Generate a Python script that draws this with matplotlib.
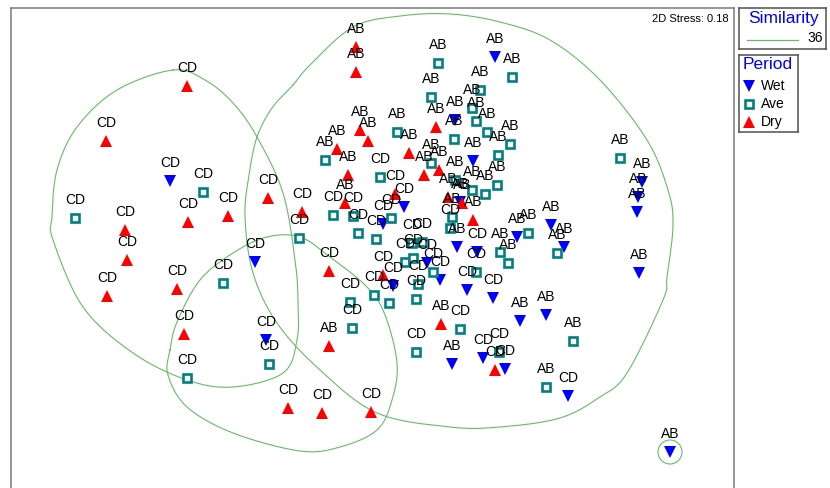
import numpy as np
import matplotlib
matplotlib.use("Agg")
import matplotlib.pyplot as plt
from matplotlib.patches import Ellipse
from matplotlib.lines import Line2D

plt.rcParams['font.family'] = ['Liberation Sans', 'DejaVu Sans']

# nMDS ordination scores (MDS1, MDS2) by sampling period, with site group labels
wet_x = [-2.00, -1.15, -1.04, 0.82, 1.13, 1.35, 1.50, 1.76, 1.98, 3.00,
         1.25, 0.85, 1.03, 0.34, 0.13, 0.57, 0.70, 0.23, 0.97, 1.23,
         0.87, 1.07, 1.47, 1.81, 1.94, 2.72, 2.68, 2.67, 2.69, 0.90]
wet_y = [0.69, -0.12, -0.90, -1.14, -1.08, -1.19, -0.71, -0.65, -1.46, -2.02,
         1.93, 1.30, 0.89, 0.43, 0.26, -0.13, -0.30, -0.36, -0.40, -0.48,
         0.03, -0.02, 0.13, 0.25, 0.03, 0.68, 0.53, 0.38, -0.23, 0.48]
wet_lab = ["CD", "CD", "CD", "AB", "CD", "CD", "AB", "AB", "CD", "AB",
           "AB", "AB", "AB", "CD", "CD", "CD", "CD", "CD", "CD", "CD",
           "AB", "CD", "AB", "AB", "AB", "AB", "AB", "AB", "AB", "AB"]

ave_x = [-1.67, -2.95, -1.47, -1.01, -1.83, -0.71, -0.18, -0.20, 0.46, 0.90,
         1.29, 2.03, 1.76, 0.68, 1.42, 0.61, 1.10, 1.02, 1.06, 1.17,
         1.40, 1.28, 0.84, 0.27, -0.45, 0.10, 0.61, -0.37, -0.17, -0.12,
         0.21, 0.06, 0.42, 0.52, 0.35, 0.43, 0.63, 0.48, 0.04, 0.19,
         0.46, 1.06, 1.30, 1.38, 1.58, 1.87, 2.50, 1.27, 1.15, 1.02,
         0.82, 0.80, 0.85]
ave_y = [0.58, 0.32, -0.33, -1.14, -1.28, 0.12, -0.78, -0.52, -1.02, -0.79,
         -1.02, -0.91, -1.37, 1.87, 1.73, 1.53, 1.60, 1.42, 1.29, 1.18,
         1.06, 0.95, 1.11, 1.18, 0.90, 0.73, 0.87, 0.35, 0.34, 0.17,
         0.32, 0.11, 0.07, 0.08, -0.12, -0.08, -0.22, -0.34, -0.45, -0.53,
         -0.49, -0.22, -0.02, -0.13, 0.17, -0.03, 0.92, 0.65, 0.56, 0.60,
         0.33, 0.22, 0.70]
ave_lab = ["CD", "CD", "CD", "CD", "CD", "CD", "CD", "CD", "CD", "CD",
           "CD", "AB", "AB", "AB", "AB", "AB", "AB", "AB", "AB", "AB",
           "AB", "AB", "AB", "AB", "AB", "CD", "AB", "CD", "CD", "CD",
           "CD", "CD", "CD", "CD", "CD", "CD", "CD", "CD", "CD", "CD",
           "CD", "CD", "AB", "AB", "AB", "AB", "AB", "AB", "AB", "AB",
           "AB", "CD", "AB"]

dry_x = [-1.83, -2.64, -2.45, -1.82, -1.42, -1.02, -2.43, -2.63, -1.93, -1.86,
         -0.82, -0.48, 0.01, -0.68, -0.41, -0.41, 0.71, 1.25, -0.14, -0.14,
         0.66, -0.10, -0.02, -0.33, 0.39, -0.22, 0.54, 0.69, -0.25, 0.25,
         0.13, 0.78, 0.92, 1.03]
dry_y = [1.64, 1.09, 0.20, 0.28, 0.34, 0.52, -0.10, -0.46, -0.39, -0.84,
         -1.58, -1.63, -1.62, 0.38, -0.21, -0.96, -0.74, -1.20, 2.03, 1.78,
         1.23, 1.20, 1.09, 1.01, 0.97, 0.75, 0.75, 0.80, 0.47, 0.56,
         -0.25, 0.53, 0.47, 0.30]
dry_lab = ["CD", "CD", "CD", "CD", "CD", "CD", "CD", "CD", "CD", "CD",
           "CD", "CD", "CD", "CD", "CD", "AB", "AB", "CD", "AB", "AB",
           "AB", "AB", "AB", "AB", "AB", "AB", "AB", "AB", "AB", "CD",
           "CD", "AB", "AB", "AB"]

# Similarity contour (36%) outlines, as control points in ordination space
contour_large = [(-0.77, 1.65), (-0.60, 1.85), (-0.17, 2.23), (0.30, 2.34), (0.80, 2.36),
                 (1.30, 2.28), (1.80, 2.10), (2.30, 1.70), (2.77, 1.10), (2.98, 0.60),
                 (3.03, 0.25), (2.97, -0.27), (2.93, -0.50), (2.57, -1.23), (2.30, -1.47),
                 (1.90, -1.68), (1.30, -1.77), (0.80, -1.77), (0.07, -1.63), (-0.50, -1.20),
                 (-0.93, -0.73), (-1.17, -0.23), (-1.25, 0.33), (-1.21, 0.75), (-1.13, 1.13),
                 (-0.98, 1.42)]
contour_left = [(-1.97, 1.80), (-1.65, 1.70), (-1.37, 1.47), (-1.13, 1.13), (-0.87, 0.57),
                (-0.75, -0.10), (-0.72, -0.50), (-0.73, -0.90), (-0.87, -1.23), (-1.37, -1.37),
                (-1.83, -1.30), (-2.37, -1.03), (-2.87, -0.57), (-3.17, 0.10), (-3.18, 0.33),
                (-3.13, 0.80), (-2.93, 1.23), (-2.53, 1.60)]
contour_mid = [(-2.00, -1.00), (-1.93, -0.72), (-1.70, -0.30), (-1.37, -0.03), (-1.03, 0.13),
               (-0.70, 0.13), (-0.40, -0.07), (-0.03, -0.37), (0.15, -0.65), (0.27, -1.13),
               (0.22, -1.50), (0.07, -1.80), (-0.30, -1.97), (-0.70, -2.01), (-1.37, -1.83),
               (-1.83, -1.57), (-2.02, -1.25)]
single_radius = 0.12
similarity_level = "36"
stress_value = 0.18

periods = ["Wet", "Ave", "Dry"]

BLUE = "#0000ff"
TEAL = "#008080"
RED = "#ff0000"
GREEN = "#66bb66"


def closed_spline(pts, n=24):
    """Closed Catmull-Rom spline through the given control points."""
    P = np.asarray(pts, dtype=float)
    N = len(P)
    t = np.linspace(0, 1, n, endpoint=False)[:, None]
    segs = []
    for i in range(N):
        p0, p1, p2, p3 = P[i - 1], P[i], P[(i + 1) % N], P[(i + 2) % N]
        segs.append(0.5 * (2 * p1 + (-p0 + p2) * t
                           + (2 * p0 - 5 * p1 + 4 * p2 - p3) * t ** 2
                           + (-p0 + 3 * p1 - 3 * p2 + p3) * t ** 3))
    out = np.vstack(segs)
    return np.vstack([out, out[:1]])


W, H = 830, 488
fig = plt.figure(figsize=(W / 100, H / 100), dpi=100)
ax = fig.add_axes([11 / W, -4 / H, 723 / W, 484 / H])
ax.set_xlim(-3.59, 3.64)
ax.set_ylim(-2.42, 2.42)
ax.set_xticks([])
ax.set_yticks([])
for s in ax.spines.values():
    s.set_color("#7a7a7a")
    s.set_linewidth(1.1)

# contours
for c in (contour_large, contour_left, contour_mid):
    sp = closed_spline(c)
    ax.plot(sp[:, 0], sp[:, 1], color=GREEN, lw=0.8, zorder=1)
ax.add_patch(Ellipse((wet_x[9], wet_y[9]), 2 * single_radius, 2 * single_radius,
                     fill=False, ec=GREEN, lw=0.8, zorder=1))

# samples
ax.plot(wet_x, wet_y, ls="none", marker="v", ms=9, mfc=BLUE, mec=BLUE, mew=0, zorder=3)
ax.plot(ave_x, ave_y, ls="none", marker="s", ms=5.3, mfc="white", mec=TEAL, mew=1.9, zorder=3)
ax.plot(dry_x, dry_y, ls="none", marker="^", ms=9, mfc=RED, mec=RED, mew=0, zorder=3)

for xs, ys, labs in ((wet_x, wet_y, wet_lab), (ave_x, ave_y, ave_lab), (dry_x, dry_y, dry_lab)):
    for x, y, lab in zip(xs, ys, labs):
        ax.annotate(lab, (x, y), xytext=(0, 13), textcoords="offset points",
                    ha="center", va="center", fontsize=10, color="black", zorder=4)

ax.text(0.992, 0.977, f"2D Stress: {stress_value:.2f}", transform=ax.transAxes,
        ha="right", va="center", fontsize=8, color="black")

# Similarity legend box
lg1 = fig.add_axes([739 / W, 1 - 49 / H, 87 / W, 41 / H])
lg1.set_xlim(739, 826)
lg1.set_ylim(49, 8)
lg1.set_xticks([])
lg1.set_yticks([])
for s in lg1.spines.values():
    s.set_color("#505050")
    s.set_linewidth(1.1)
lg1.text(783, 19, "Similarity", ha="center", va="center", fontsize=12.5, color=BLUE)
lg1.plot([747, 798], [40, 40], color=GREEN, lw=0.9)
lg1.text(823, 38.5, similarity_level, ha="right", va="center", fontsize=10, color="black")

# Period legend box
lg2 = fig.add_axes([739 / W, 1 - 132 / H, 59 / W, 77 / H])
lg2.set_xlim(739, 798)
lg2.set_ylim(132, 55)
lg2.set_xticks([])
lg2.set_yticks([])
for s in lg2.spines.values():
    s.set_color("#505050")
    s.set_linewidth(1.1)
lg2.text(768, 65, "Period", ha="center", va="center", fontsize=12.5, color=BLUE)
styles = [dict(marker="v", ms=9, mfc=BLUE, mec=BLUE, mew=0),
          dict(marker="s", ms=5.3, mfc="white", mec=TEAL, mew=1.9),
          dict(marker="^", ms=9, mfc=RED, mec=RED, mew=0)]
for yy, name, st in zip([86, 104, 122], periods, styles):
    lg2.plot([749], [yy], ls="none", **st)
    lg2.text(761, yy, name, ha="left", va="center", fontsize=10, color="black")

fig.savefig("out.png", dpi=100)
